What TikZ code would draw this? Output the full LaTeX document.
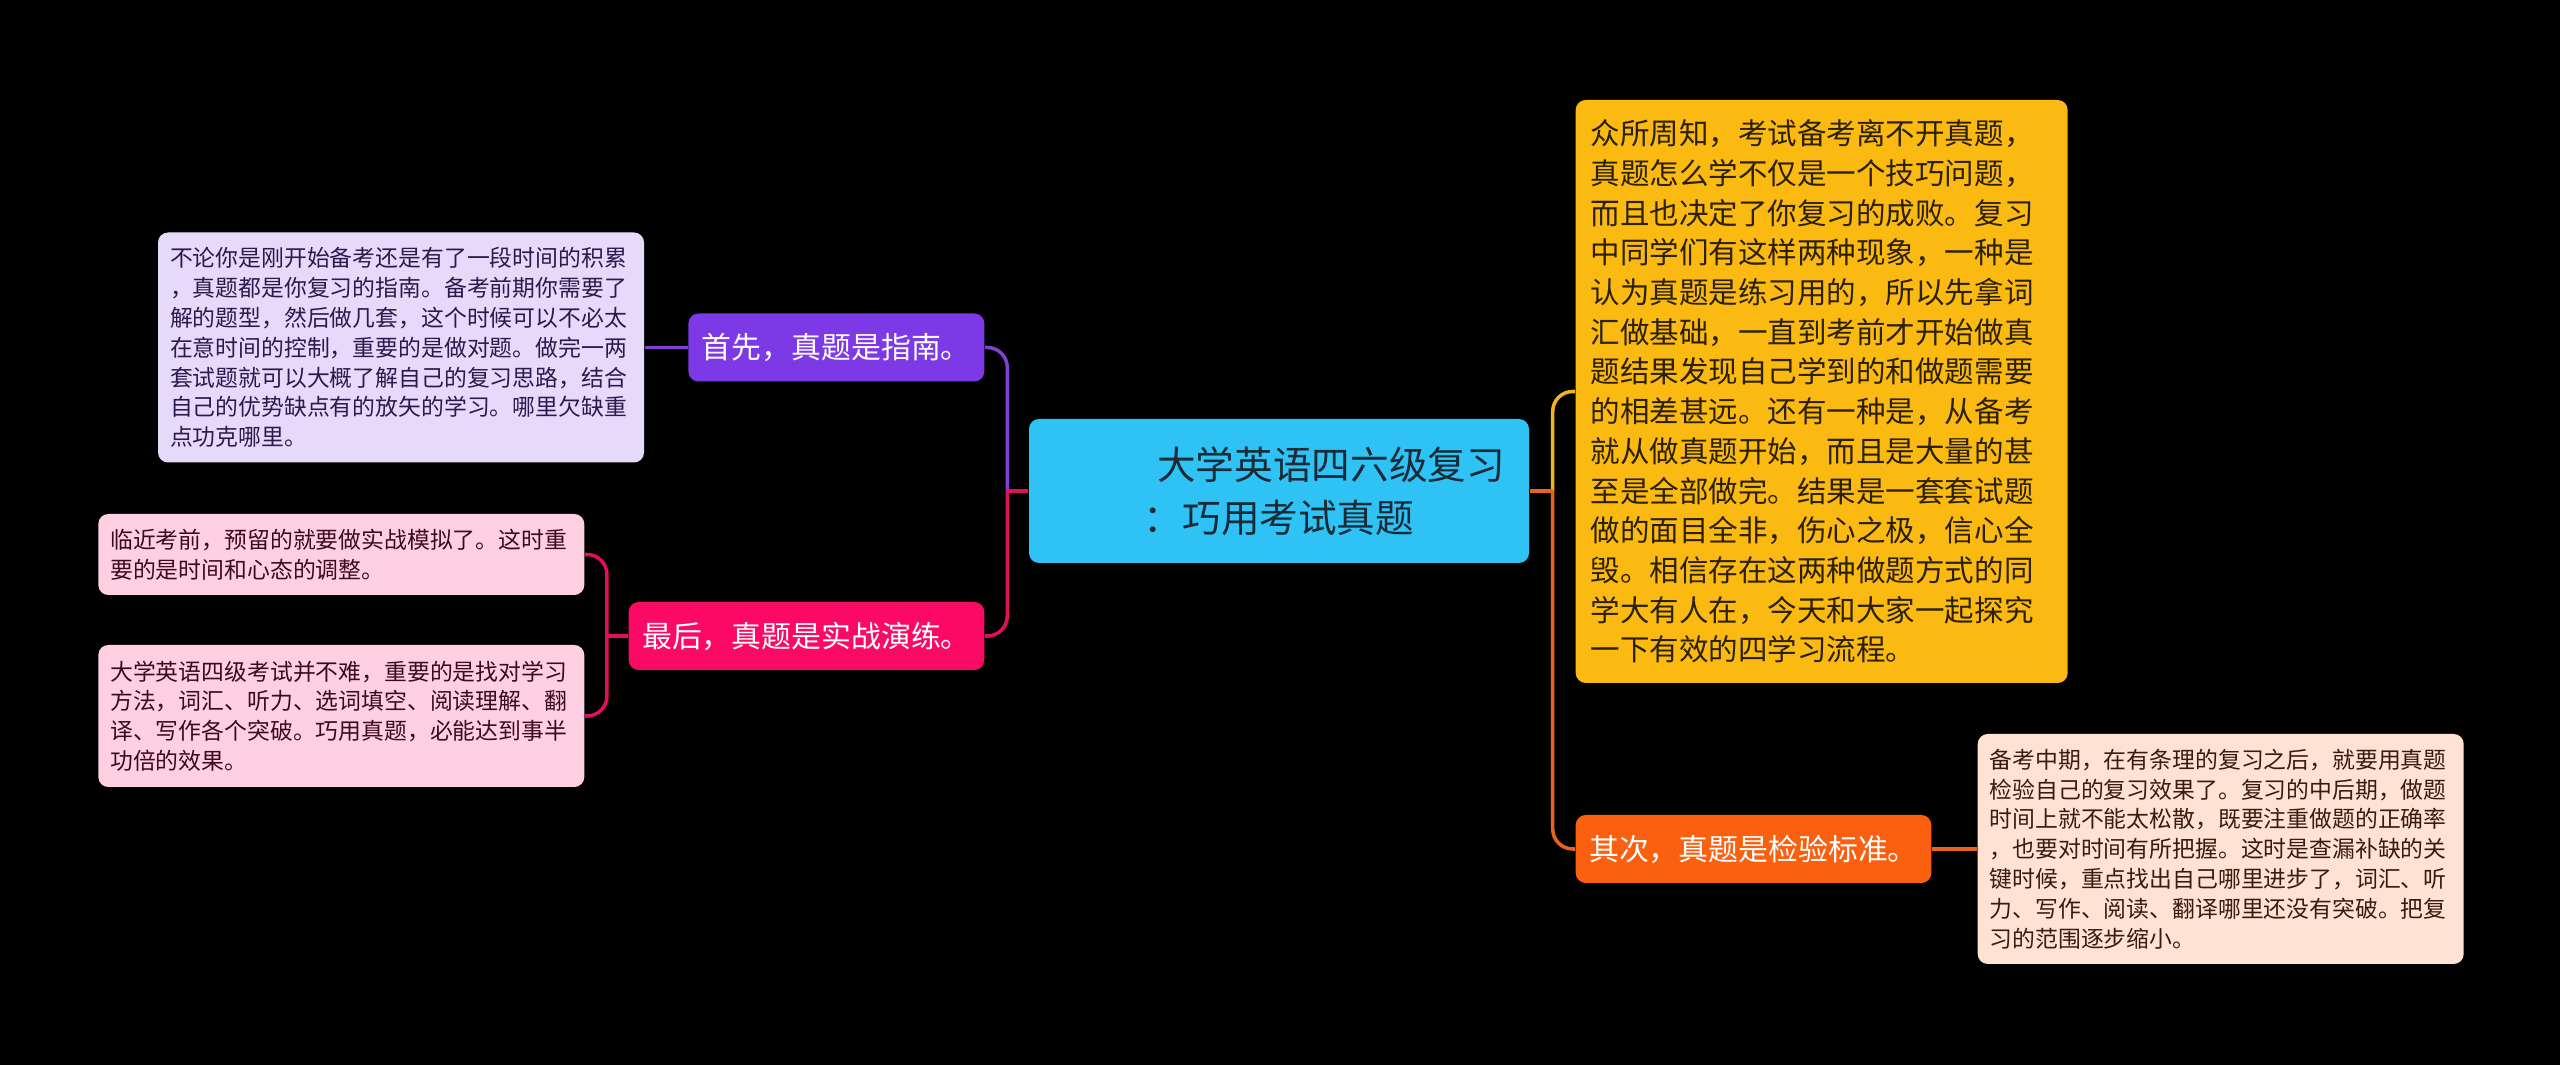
\documentclass[tikz,border=0pt]{standalone}
\usepackage{fontspec}
\setmainfont{Noto Sans CJK SC}
\usetikzlibrary{positioning}

\definecolor{rootblue}{RGB}{47,195,245}
\definecolor{roottext}{RGB}{26,42,54}
\definecolor{sumyellow}{RGB}{250,186,18}
\definecolor{sumtext}{RGB}{43,32,0}
\definecolor{sumline}{RGB}{240,180,32}
\definecolor{checkorange}{RGB}{250,96,16}
\definecolor{checkline}{RGB}{232,100,30}
\definecolor{checkpale}{RGB}{255,226,210}
\definecolor{checktext}{RGB}{58,28,12}
\definecolor{guidepurple}{RGB}{125,57,230}
\definecolor{guideline}{RGB}{128,64,208}
\definecolor{guidepale}{RGB}{230,218,251}
\definecolor{guidetext}{RGB}{43,27,77}
\definecolor{drillpink}{RGB}{250,10,100}
\definecolor{drillline}{RGB}{224,16,95}
\definecolor{drillpale}{RGB}{255,208,226}
\definecolor{drilltext}{RGB}{59,10,34}

\begin{document}
\begin{tikzpicture}[x=0.1mm, y=-0.1mm,
  box/.style={rounded corners=1mm, inner ysep=0pt},
  topic/.style={box, fill=#1, text=white, inner xsep=1.35mm, minimum height=6.8mm,
    font=\fontsize{8.5pt}{10pt}\selectfont},
  note/.style={box, align=left, inner xsep=1.2mm, text width=46.2mm,
    font=\fontsize{6.5pt}{8.48pt}\selectfont},
  link/.style={line width=1pt, rounded corners=2mm}]
  \fill[black] (0,0) rectangle (2560,1065);

  \node[box, fill=rootblue, text=roottext, align=center, minimum width=50mm, minimum height=14.4mm,
    font=\fontsize{11pt}{15.1pt}\selectfont] (root) at (1279,491)
    {\hspace*{2.7em}大学英语四六级复习\\：巧用考试真题};

  \node[box, fill=sumyellow, text=sumtext, align=left, inner xsep=1.5mm, text width=46.2mm,
    minimum height=58.3mm, font=\fontsize{8.4pt}{11.3pt}\selectfont, anchor=west] (summary) at (1575,391.5)
    {众所周知，考试备考离不开真题，\\真题怎么学不仅是一个技巧问题，\\而且也决定了你复习的成败。复习\\中同学们有这样两种现象，一种是\\认为真题是练习用的，所以先拿词\\汇做基础，一直到考前才开始做真\\题结果发现自己学到的和做题需要\\的相差甚远。还有一种是，从备考\\就从做真题开始，而且是大量的甚\\至是全部做完。结果是一套套试题\\做的面目全非，伤心之极，信心全\\毁。相信存在这两种做题方式的同\\学大有人在，今天和大家一起探究\\一下有效的四学习流程。};

  \node[topic=checkorange, anchor=west] (check) at (1575,849) {其次，真题是检验标准。};
  \node[note, fill=checkpale, text=checktext, minimum height=23mm, right=4.5mm of check] (checknote)
    {备考中期，在有条理的复习之后，就要用真题\\检验自己的复习效果了。复习的中后期，做题\\时间上就不能太松散，既要注重做题的正确率\\，也要对时间有所把握。这时是查漏补缺的关\\键时候，重点找出自己哪里进步了，词汇、听\\力、写作、阅读、翻译哪里还没有突破。把复\\习的范围逐步缩小。};

  \node[topic=guidepurple, anchor=east] (guide) at (985,347.5) {首先，真题是指南。};
  \node[note, fill=guidepale, text=guidetext, minimum height=23mm, left=4.3mm of guide] (guidenote)
    {不论你是刚开始备考还是有了一段时间的积累\\，真题都是你复习的指南。备考前期你需要了\\解的题型，然后做几套，这个时候可以不必太\\在意时间的控制，重要的是做对题。做完一两\\套试题就可以大概了解自己的复习思路，结合\\自己的优势缺点有的放矢的学习。哪里欠缺重\\点功克哪里。};

  \node[topic=drillpink, anchor=east] (drill) at (985,636) {最后，真题是实战演练。};
  \node[note, fill=drillpale, text=drilltext, minimum height=8.1mm, anchor=east] (drillnoteA) at (585,554.5)
    {临近考前，预留的就要做实战模拟了。这时重\\要的是时间和心态的调整。};
  \node[note, fill=drillpale, text=drilltext, minimum height=14.2mm, anchor=east] (drillnoteB) at (585,716)
    {大学英语四级考试并不难，重要的是找对学习\\方法，词汇、听力、选词填空、阅读理解、翻\\译、写作各个突破。巧用真题，必能达到事半\\功倍的效果。};

  \coordinate[right=2.3mm of root.east] (rfork);
  \coordinate[left=2.1mm of root.west] (lfork);
  \coordinate[left=2.1mm of drill.west] (dfork);

  \draw[link, sumline] (rfork) |- (summary.west);
  \draw[link, checkline] (root.east) -- (rfork);
  \draw[link, checkline] (rfork) |- (check.west);
  \draw[link, checkline] (check.east) -- (checknote.west);
  \draw[link, guideline] (lfork) |- (guide.east);
  \draw[link, guideline] (guide.west) -- (guidenote.east);
  \draw[link, drillline] (root.west) -- (lfork);
  \draw[link, drillline] (lfork) |- (drill.east);
  \draw[link, drillline] (drill.west) -- (dfork);
  \draw[link, drillline] (dfork) |- (drillnoteA.east);
  \draw[link, drillline] (dfork) |- (drillnoteB.east);
\end{tikzpicture}
\end{document}
